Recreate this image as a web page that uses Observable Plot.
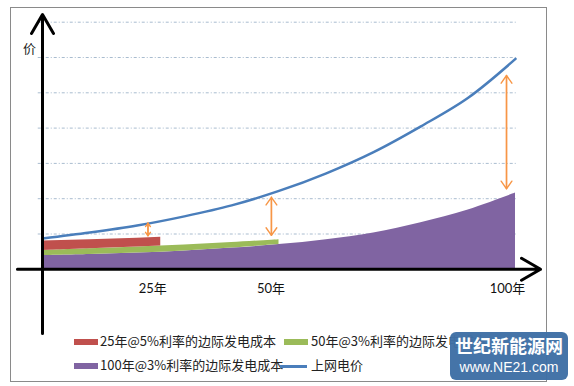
<!DOCTYPE html>
<html>
<head>
<meta charset="utf-8">
<script src="https://cdn.jsdelivr.net/npm/d3@7"></script>
<script src="https://cdn.jsdelivr.net/npm/@observablehq/plot@0.6"></script>
<style>
  html, body { margin: 0; padding: 0; background: #fff; }
  #wrap { position: relative; width: 574px; height: 386px; overflow: hidden; font-family: "Noto Sans CJK SC", sans-serif; }
  #frame { position: absolute; left: 10px; top: 7px; width: 537px; height: 375px; border: 1px solid #8a8a8a; box-sizing: border-box; }
  #chart { position: absolute; left: 0; top: 0; }
  .leg { position: absolute; font-size: 13px; color: #222; white-space: nowrap; line-height: 16px; }
  .sw { position: absolute; width: 24px; height: 6px; }
  .ln { position: absolute; height: 2.5px; }
  #wm { position: absolute; left: 450px; top: 332px; width: 118px; height: 48px; background: #3f70a6; border-radius: 6px; opacity: 0.97; }
  #wm div { position: absolute; left: 0; width: 118px; text-align: center; color: #fff; white-space: nowrap; }
  #wm .a { top: 2px; font-size: 18px; font-weight: 700; line-height: 22px; }
  #wm .b { top: 27px; font-family: "Liberation Sans", sans-serif; font-size: 14px; line-height: 17px; }
</style>
</head>
<body>
<div id="wrap">
  <div id="frame"></div>
  <div id="chart"></div>
</div>
<script>
// ---- data ----
const years = [0, 10, 20, 30, 40, 50, 60, 70, 80, 90, 100];
const gridPrice = [0.87, 1.04, 1.24, 1.50, 1.81, 2.22, 2.72, 3.32, 4.05, 4.86, 5.96];      // 上网电价
const cost100 = [0.39, 0.42, 0.46, 0.52, 0.60, 0.70, 0.84, 1.03, 1.32, 1.68, 2.16];        // 100年@3%
const years50 = [0, 10, 20, 30, 40, 50];
const cost50Top = [0.53, 0.58, 0.63, 0.69, 0.76, 0.84];                                     // 50年@3% (top)
const cost50Base = [0.39, 0.42, 0.46, 0.52, 0.60, 0.70];
const years25 = [0, 10, 20, 25];
const cost25Top = [0.80, 0.84, 0.88, 0.91];                                                 // 25年@5% (top)
const cost25Base = [0.53, 0.58, 0.63, 0.66];
const gapYears = [22.3, 48.4, 98.1];
const gapTop = [1.31, 2.04, 5.49];
const gapBottom = [0.95, 0.96, 2.28];
const gridLevels = [1, 2, 3, 4, 5, 6, 7];
const xTickYears = [25, 50, 100];
const xTickLabels = ["25年", "50年", "100年"];
const yAxisLabel = "价";
const xAxisExtent = [-5.3, 105.3];
const yAxisExtent = [-1.82, 7.22];
const gridExtent = [-0.9, 100.4];

const legendRows = [
  { name: "25年@5%利率的边际发电成本", color: "#c0504d", kind: "box" },
  { name: "50年@3%利率的边际发电成本", color: "#9bbb59", kind: "box" },
  { name: "100年@3%利率的边际发电成本", color: "#8064a2", kind: "box" },
  { name: "上网电价", color: "#4a7ebb", kind: "line" }
];

const priceData = years.map((t, i) => ({ t, v: gridPrice[i] }));
const purple = years.map((t, i) => ({ t, y1: 0, y2: cost100[i] }));
const green = years50.map((t, i) => ({ t, y1: cost50Base[i], y2: cost50Top[i] }));
const red = years25.map((t, i) => ({ t, y1: cost25Base[i], y2: cost25Top[i] }));
const gaps = gapYears.map((t, i) => ({ t, a: gapTop[i], b: gapBottom[i], small: i === 0 }));
const ticks = xTickYears.map((t, i) => ({ t, label: xTickLabels[i] }));

const orange = "#f79646";
const big = gaps.filter(d => !d.small), small = gaps.filter(d => d.small);

const chart = Plot.plot({
  width: 574,
  height: 336,
  margin: 0,
  x: { domain: [0, 100], range: [42, 515], axis: null },
  y: { domain: [0, 7], range: [268.8, 21.7], axis: null },
  style: { fontFamily: "Lato, 'Noto Sans CJK SC', sans-serif", background: "transparent" },
  marks: [
    Plot.ruleY(gridLevels, { y: d => d, x1: gridExtent[0], x2: gridExtent[1], stroke: "#a9bccf", strokeWidth: 1, strokeDasharray: "3,2,1,2" }),
    Plot.areaY(purple, { x: "t", y1: "y1", y2: "y2", fill: "#8064a2", curve: "catmull-rom" }),
    Plot.areaY(green, { x: "t", y1: "y1", y2: "y2", fill: "#9bbb59", curve: "catmull-rom" }),
    Plot.areaY(red, { x: "t", y1: "y1", y2: "y2", fill: "#c0504d", curve: "linear" }),
    Plot.line(priceData, { x: "t", y: "v", stroke: "#4a7ebb", strokeWidth: 2.5, curve: "catmull-rom" }),
    Plot.arrow(big, { x: "t", y1: "a", y2: "b", stroke: orange, strokeWidth: 1.4, headLength: 10, headAngle: 70 }),
    Plot.arrow(big, { x: "t", y1: "b", y2: "a", stroke: orange, strokeWidth: 1.4, headLength: 10, headAngle: 70 }),
    Plot.arrow(small, { x: "t", y1: "a", y2: "b", stroke: orange, strokeWidth: 1.4, headLength: 6, headAngle: 70 }),
    Plot.arrow(small, { x: "t", y1: "b", y2: "a", stroke: orange, strokeWidth: 1.4, headLength: 6, headAngle: 70 }),
    Plot.arrow([0], { x1: xAxisExtent[0], x2: xAxisExtent[1], y1: 0, y2: 0, stroke: "#000", strokeWidth: 3, headLength: 11, headAngle: 60 }),
    Plot.arrow([0], { x1: 0, x2: 0, y1: yAxisExtent[0], y2: yAxisExtent[1], stroke: "#000", strokeWidth: 3, headLength: 11, headAngle: 60 }),
    Plot.text(ticks, { x: "t", y: 0, text: "label", dx: -8, dy: 20, fontSize: 13, fill: "#111" }),
    Plot.text([yAxisLabel], { frameAnchor: "top-left", dx: 29, dy: 43, text: d => d, fontSize: 13, fill: "#222", textAnchor: "middle" })
  ]
});
document.getElementById("chart").appendChild(chart);

// ---- legend (HTML, below the plot) ----
const wrap = document.getElementById("wrap");
const legPos = [
  { sx: 74, tx: 100, y: 342 },
  { sx: 284, tx: 311, y: 342 },
  { sx: 74, tx: 100, y: 366 },
  { sx: 280, tx: 311, y: 366 }
];
legendRows.forEach((r, i) => {
  const p = legPos[i];
  const s = document.createElement("div");
  if (r.kind === "box") {
    s.className = "sw";
    s.style.left = p.sx + "px"; s.style.width = "24px";
    s.style.top = (p.y - 3) + "px";
  } else {
    s.className = "ln";
    s.style.left = p.sx + "px"; s.style.width = "27px";
    s.style.top = (p.y - 1) + "px";
  }
  s.style.background = r.color;
  wrap.appendChild(s);
  const t = document.createElement("div");
  t.className = "leg";
  t.style.left = p.tx + "px";
  t.style.top = (p.y - 9) + "px";
  t.textContent = r.name;
  wrap.appendChild(t);
});

// watermark badge
const wm = document.createElement("div");
wm.id = "wm";
wm.innerHTML = '<div class="a">世纪新能源网</div><div class="b">www.NE21.com</div>';
wrap.appendChild(wm);
</script>
</body>
</html>
